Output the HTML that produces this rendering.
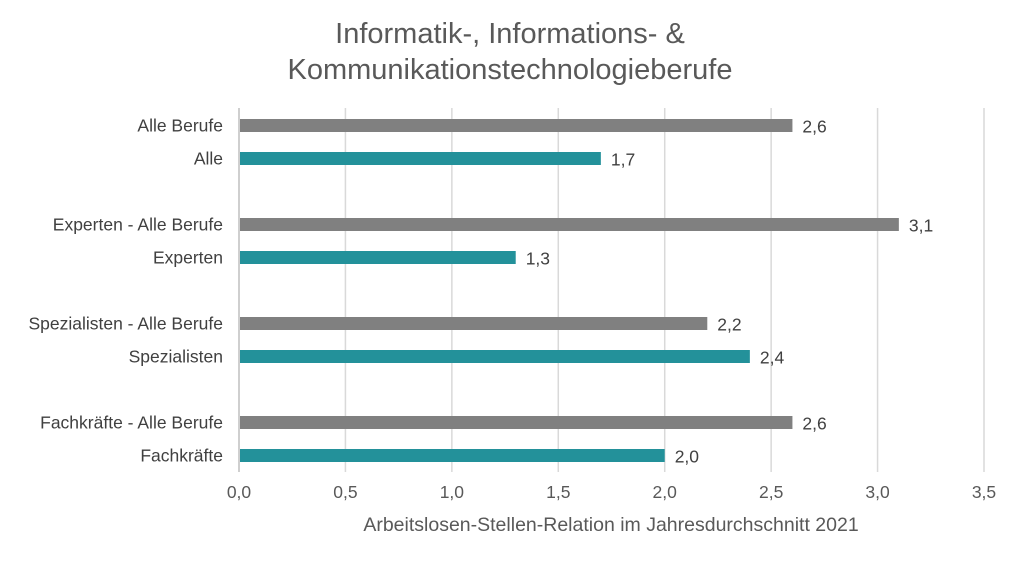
<!DOCTYPE html>
<html><head><meta charset="utf-8"><style>
body{margin:0;background:#fff;width:1020px;height:561px;overflow:hidden;font-family:"Liberation Sans",sans-serif}
</style></head><body>
<svg id="chart" width="1020" height="561" xmlns="http://www.w3.org/2000/svg">
<text x="510" y="43" text-anchor="middle" font-size="29" fill="#595959">Informatik-, Informations- &amp;</text>
<text x="510" y="79" text-anchor="middle" font-size="29" fill="#595959">Kommunikationstechnologieberufe</text>
<g id="grid"></g><g id="bars"></g><g id="labels"></g>
<text x="611" y="531" text-anchor="middle" font-size="19.5" fill="#595959">Arbeitslosen-Stellen-Relation im Jahresdurchschnitt 2021</text>
</svg>
<script>
const categories=["Alle Berufe","Alle","Experten - Alle Berufe","Experten","Spezialisten - Alle Berufe","Spezialisten","Fachkräfte - Alle Berufe","Fachkräfte"];
const values=[2.6,1.7,3.1,1.3,2.2,2.4,2.6,2.0];
const seriesType=["all","it","all","it","all","it","all","it"];
const ticks=[0,0.5,1,1.5,2,2.5,3,3.5];
(function(){
const NS="http://www.w3.org/2000/svg";
const x0=239,x1=984,xmax=3.5,plotTop=108,plotBottom=472;
const xs=v=>x0+(x1-x0)*v/xmax;
const yc=i=>125.5+Math.floor(i/2)*99+(i%2)*33;
function mk(t,a,p){const e=document.createElementNS(NS,t);for(const k in a)e.setAttribute(k,a[k]);p.appendChild(e);return e;}
const g=document.getElementById('grid'),b=document.getElementById('bars'),l=document.getElementById('labels');
ticks.forEach((t,i)=>{
 const ln=mk('line',{x1:xs(t),x2:xs(t),y1:plotTop,y2:plotBottom,stroke:i===0?'#bfbfbf':'#d9d9d9','stroke-width':1.5},g);
 
 
 const tx=mk('text',{x:xs(t),y:498,'text-anchor':'middle','font-size':17.5,fill:'#595959'},l);
 tx.textContent=t.toFixed(1).replace('.',',');
 
 
});
categories.forEach((c,i)=>{
 const y=yc(i);
 const r=mk('rect',{x:x0+1,y:y-6.5,width:xs(values[i])-x0-1,height:13,fill:seriesType[i]==='all'?'#808080':'#23919a'},b);
 
 
 const cl=mk('text',{x:223,y:y+6,'text-anchor':'end','font-size':17.5,fill:'#404040'},l);
 cl.textContent=c;
 
 
 const vl=mk('text',{x:xs(values[i])+10,y:y+7,'font-size':17.5,fill:'#404040'},l);
 vl.textContent=values[i].toFixed(1).replace('.',',');
 
 
});
})();
</script>
</body></html>
